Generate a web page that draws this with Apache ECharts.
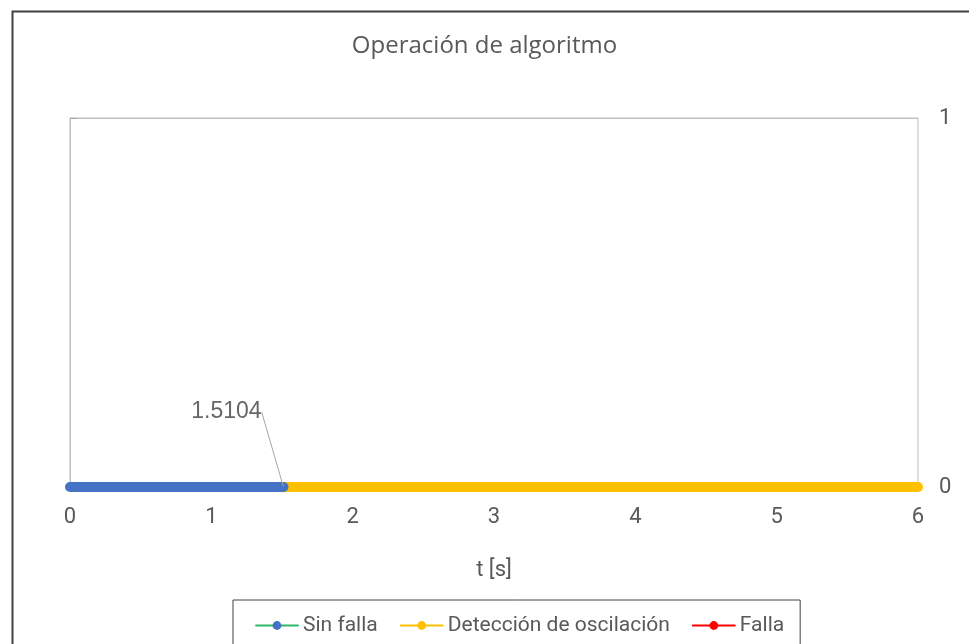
<!DOCTYPE html>
<html>
<head>
<meta charset="utf-8">
<script src="https://cdn.jsdelivr.net/npm/echarts@6/dist/echarts.min.js"></script>
<style>
  html, body { margin: 0; padding: 0; background: #fff; }
  #chart { width: 969px; height: 644px; }
</style>
</head>
<body>
<div id="chart"></div>
<script>
  // tiempos y estados
  var tSinFalla = [0, 1.5104];
  var ySinFalla = [0, 0];
  var tDeteccion = [1.5104, 6];
  var yDeteccion = [0, 0];
  var tFalla = [];
  var yFalla = [];
  var tCambio = [1.5104];
  var yCambio = [0];

  function pairs(xs, ys) {
    return xs.map(function (x, i) { return [x, ys[i]]; });
  }

  var txt = '#595959';
  var font = 'Roboto, Arial, sans-serif';

  var myChart = echarts.init(document.getElementById('chart'));
  myChart.setOption({
    animation: false,
    textStyle: { fontFamily: font },
    title: {
      text: 'Operación de algoritmo',
      left: 'center',
      top: 29,
      textStyle: { color: txt, fontSize: 24, fontWeight: 'normal', fontFamily: '"Open Sans", Arial, sans-serif' }
    },
    graphic: [{
      type: 'rect',
      left: 10, top: 9,
      shape: { width: 1000, height: 700 },
      style: { fill: 'none', stroke: '#404040', lineWidth: 2 },
      silent: true
    }],
    grid: {
      left: 70, right: 51, top: 118, bottom: 157,
      show: true, borderColor: '#bfbfbf', borderWidth: 1
    },
    legend: {
      top: 600,
      left: 233,
      padding: [15, 16, 30, 22],
      borderColor: '#404040',
      borderWidth: 1,
      itemWidth: 42,
      itemHeight: 11,
      itemGap: 22,
      textStyle: { color: txt, fontSize: 21, fontFamily: font },
      data: [
        { name: 'Sin falla', lineStyle: { color: '#2fb86a', width: 2 } },
        { name: 'Detección de oscilación', lineStyle: { color: '#ffc000', width: 2 } },
        { name: 'Falla', lineStyle: { color: '#ff0000', width: 2 } }
      ]
    },
    xAxis: {
      type: 'value',
      min: 0, max: 6, interval: 1,
      name: 't [s]',
      nameLocation: 'middle',
      nameGap: 72,
      nameTextStyle: { color: txt, fontSize: 22 },
      axisLine: { show: false },
      axisTick: { show: false },
      splitLine: { show: false },
      axisLabel: { color: txt, fontSize: 22, margin: 19 }
    },
    yAxis: {
      type: 'value',
      position: 'right',
      min: 0, max: 1, interval: 1,
      axisLine: { show: true, lineStyle: { color: '#bfbfbf' } },
      axisTick: { show: true, inside: false, length: 7, lineStyle: { color: '#a6a6a6' } },
      splitLine: { show: true, lineStyle: { color: '#bfbfbf' } },
      axisLabel: { color: txt, fontSize: 22, margin: 21 }
    },
    series: [
      {
        name: 'Sin falla',
        type: 'line',
        data: pairs(tSinFalla, ySinFalla),
        symbol: 'circle', symbolSize: 10, showSymbol: false,
        itemStyle: { color: '#4472c4' },
        lineStyle: { color: '#4472c4', width: 10, cap: 'round' },
        z: 3
      },
      {
        name: 'Detección de oscilación',
        type: 'line',
        data: pairs(tDeteccion, yDeteccion),
        symbol: 'circle', symbolSize: 10, showSymbol: false,
        itemStyle: { color: '#ffc000' },
        lineStyle: { color: '#ffc000', width: 10, cap: 'round' },
        z: 2
      },
      {
        name: 'Falla',
        type: 'line',
        data: pairs(tFalla, yFalla),
        symbol: 'circle', symbolSize: 10, showSymbol: false,
        itemStyle: { color: '#ff0000' },
        lineStyle: { color: '#ff0000', width: 10, cap: 'round' }
      },
      {
        name: 'cambio',
        type: 'scatter',
        data: pairs(tCambio, yCambio),
        symbolSize: 1,
        itemStyle: { color: 'rgba(0,0,0,0)' },
        silent: true,
        z: 5,
        label: {
          show: true,
          position: 'inside',
          color: '#404040',
          fontSize: 23,
          fontFamily: 'Arial, "Liberation Sans", sans-serif',
          formatter: function (p) { return p.value[0].toFixed(4); }
        },
        labelLayout: { dx: -57, dy: -75 },
        labelLine: { show: true, lineStyle: { color: '#a6a6a6', width: 1 } }
      }
    ]
  });
</script>
</body>
</html>
